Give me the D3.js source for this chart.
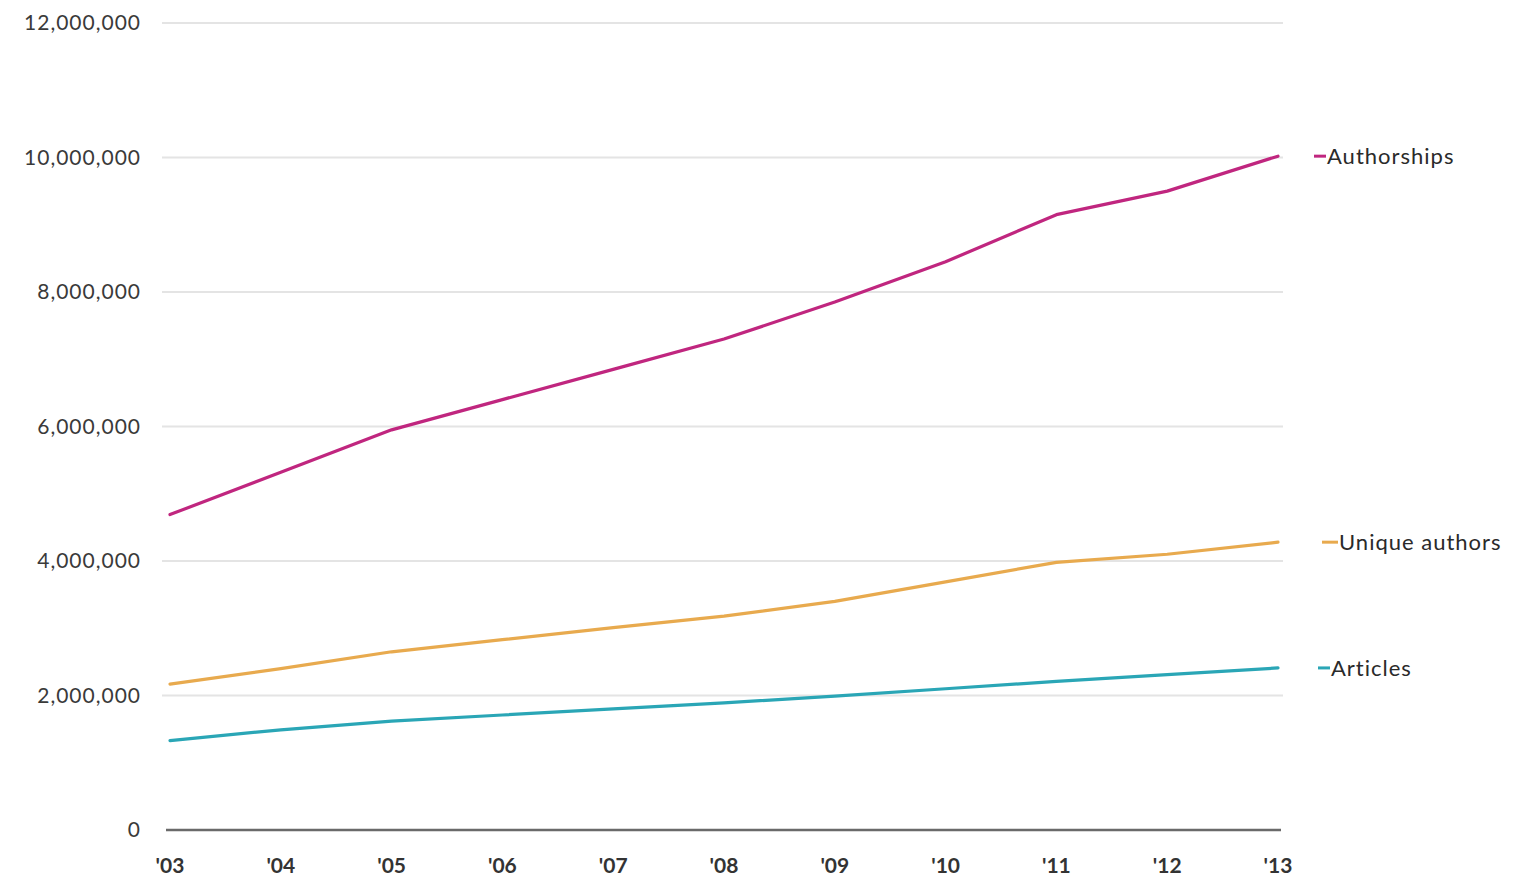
<!DOCTYPE html>
<html>
<head>
<meta charset="utf-8">
<script src="https://cdn.jsdelivr.net/npm/d3@7/dist/d3.min.js"></script>
<style>
  html, body { margin: 0; padding: 0; background: #ffffff; }
  svg { display: block; }
</style>
</head>
<body>
<script>
// ---- data ----
const years = [2003, 2004, 2005, 2006, 2007, 2008, 2009, 2010, 2011, 2012, 2013];
const yearLabels = ["'03", "'04", "'05", "'06", "'07", "'08", "'09", "'10", "'11", "'12", "'13"];
const authorships = [4690000, 5320000, 5950000, 6400000, 6850000, 7300000, 7850000, 8450000, 9150000, 9500000, 10020000];
const uniqueAuthors = [2170000, 2400000, 2650000, 2830000, 3010000, 3180000, 3400000, 3690000, 3980000, 4100000, 4280000];
const articles = [1330000, 1490000, 1620000, 1710000, 1800000, 1890000, 1990000, 2100000, 2210000, 2310000, 2410000];
const yTicks = [0, 2000000, 4000000, 6000000, 8000000, 10000000, 12000000];
const seriesNames = ["Authorships", "Unique authors", "Articles"];

const series = [
  { name: seriesNames[0], values: authorships, color: "#c0267f", labelDx: 36 },
  { name: seriesNames[1], values: uniqueAuthors, color: "#e8aa4e", labelDx: 48 },
  { name: seriesNames[2], values: articles, color: "#2aa6b6", labelDx: 40 }
];

const W = 1522, H = 881;
const svg = d3.select("body").append("svg").attr("width", W).attr("height", H);

const x = d3.scaleLinear().domain([2003, 2013]).range([170, 1278]);
const y = d3.scaleLinear().domain([0, 12000000]).range([830, 23]);

const font = "Lato, 'Open Sans', sans-serif";

// gridlines
svg.append("g").selectAll("line").data(yTicks.filter(d => d > 0)).join("line")
  .attr("x1", 162).attr("x2", 1283)
  .attr("y1", d => y(d)).attr("y2", d => y(d))
  .attr("stroke", "#e4e4e4").attr("stroke-width", 2);

// baseline axis
svg.append("line")
  .attr("x1", 166).attr("x2", 1281)
  .attr("y1", y(0)).attr("y2", y(0))
  .attr("stroke", "#6a6a6a").attr("stroke-width", 2.5);

// y tick labels
const fmt = d3.format(",");
svg.append("g").selectAll("text").data(yTicks).join("text")
  .attr("x", 141).attr("y", d => y(d)).attr("dy", "0.35em")
  .attr("text-anchor", "end")
  .attr("font-family", font).attr("font-size", 21)
  .attr("letter-spacing", 1)
  .attr("fill", "#3a3a3a")
  .text(d => fmt(d));

// x tick labels
svg.append("g").selectAll("text").data(years).join("text")
  .attr("x", d => x(d)).attr("y", 873)
  .attr("text-anchor", "middle")
  .attr("font-family", font).attr("font-size", 21).attr("font-weight", "bold")
  .attr("fill", "#333")
  .text((d, i) => yearLabels[i]);

// lines
const line = d3.line().x((d, i) => x(years[i])).y(d => y(d));
svg.append("g").selectAll("path").data(series).join("path")
  .attr("d", s => line(s.values))
  .attr("fill", "none")
  .attr("stroke", s => s.color)
  .attr("stroke-width", 3.2)
  .attr("stroke-linejoin", "round")
  .attr("stroke-linecap", "round");

// end labels
const labelG = svg.append("g").selectAll("g").data(series).join("g")
  .attr("transform", s => `translate(${x(2013) + s.labelDx},${y(s.values[s.values.length - 1])})`);
labelG.append("line")
  .attr("x1", s => s.name === "Unique authors" ? -4 : 0)
  .attr("x2", 12).attr("y1", 0).attr("y2", 0)
  .attr("stroke", s => s.color).attr("stroke-width", 3);
labelG.append("text")
  .attr("x", 13).attr("dy", "0.35em")
  .attr("font-family", font).attr("font-size", 22)
  .attr("letter-spacing", 1)
  .attr("fill", "#2a2a2a")
  .text(s => s.name);
</script>
</body>
</html>
